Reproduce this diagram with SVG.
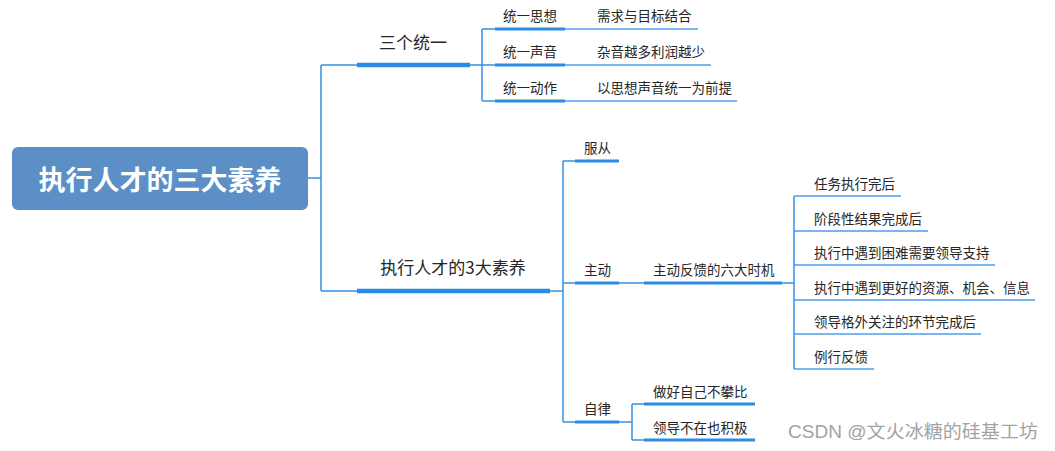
<svg xmlns="http://www.w3.org/2000/svg" width="1055" height="451" viewBox="0 0 1055 451">
<style>
.t{font-family:"Noto Sans CJK SC","Microsoft YaHei",sans-serif;fill:#262626}
.l1{font-size:17px}
.l2{font-size:13.5px}
.c{fill:none;stroke:#3590e6;stroke-width:1.5}
.u1{stroke:#2a8ae4;stroke-width:4.5}
.u2{stroke:#2a8ae4;stroke-width:3}
.u3{stroke:#4d9eea;stroke-width:1.6}
</style>
<rect width="1055" height="451" fill="#fff"/>
<g id="connectors">
<path class="c" d="M308 178H321M321 65V291M321 65H357M321 291H357"/>
<path class="c" d="M470 65H482M482 29V101M482 29H495M482 65H495M482 101H495"/>
<path class="c" d="M550 291H563M563 161V422M563 161H575M563 283H575M563 422H575"/>
<path class="c" d="M619 283H644"/>
<path class="c" d="M782 283H794M794 196V369"/>
<path class="c" d="M619 422H632M632 404V440M632 404H644M632 440H644"/>
</g>
<g id="root">
<rect x="12" y="147" width="296" height="63" rx="6" fill="#5b8fc6"/>
<text x="160" y="190" text-anchor="middle" font-family="'Noto Sans CJK SC',sans-serif" font-weight="bold" font-size="27" fill="#fff">执行人才的三大素养</text>
</g>
<g id="n-santongyi">
<line class="u1" x1="357" y1="65" x2="470" y2="65"/>
<text class="t l1" x="413" y="49" text-anchor="middle">三个统一</text>
</g>
<g id="n-sixiang">
<line class="u2" x1="495" y1="29" x2="565" y2="29"/>
<text class="t l2" x="503" y="21">统一思想</text>
</g>
<g id="n-sixiang-c">
<line class="u3" x1="565" y1="29" x2="698" y2="29"/>
<text class="t l2" x="597" y="21">需求与目标结合</text>
</g>
<g id="n-shengyin">
<line class="u2" x1="495" y1="65" x2="565" y2="65"/>
<text class="t l2" x="503" y="57">统一声音</text>
</g>
<g id="n-shengyin-c">
<line class="u3" x1="565" y1="65" x2="711" y2="65"/>
<text class="t l2" x="597" y="57">杂音越多利润越少</text>
</g>
<g id="n-dongzuo">
<line class="u2" x1="495" y1="101" x2="565" y2="101"/>
<text class="t l2" x="503" y="93">统一动作</text>
</g>
<g id="n-dongzuo-c">
<line class="u3" x1="565" y1="101" x2="737" y2="101"/>
<text class="t l2" x="597" y="93">以思想声音统一为前提</text>
</g>
<g id="n-suyang">
<line class="u1" x1="357" y1="291" x2="550" y2="291"/>
<text class="t l1" x="453" y="274" text-anchor="middle">执行人才的3大素养</text>
</g>
<g id="n-fucong">
<line class="u2" x1="575" y1="161" x2="619" y2="161"/>
<text class="t l2" x="584" y="153">服从</text>
</g>
<g id="n-zhudong">
<line class="u2" x1="575" y1="283" x2="619" y2="283"/>
<text class="t l2" x="584" y="275">主动</text>
</g>
<g id="n-fankui">
<line class="u2" x1="644" y1="283" x2="782" y2="283"/>
<text class="t l2" x="653" y="275">主动反馈的六大时机</text>
</g>
<g id="n-f1">
<line class="u3" x1="794" y1="196" x2="901" y2="196"/>
<text class="t l2" x="814" y="189">任务执行完后</text>
</g>
<g id="n-f2">
<line class="u3" x1="794" y1="231" x2="928" y2="231"/>
<text class="t l2" x="814" y="224">阶段性结果完成后</text>
</g>
<g id="n-f3">
<line class="u3" x1="794" y1="265" x2="995" y2="265"/>
<text class="t l2" x="814" y="258">执行中遇到困难需要领导支持</text>
</g>
<g id="n-f4">
<line class="u3" x1="794" y1="300" x2="1035" y2="300"/>
<text class="t l2" x="814" y="293">执行中遇到更好的资源、机会、信息</text>
</g>
<g id="n-f5">
<line class="u3" x1="794" y1="334" x2="981" y2="334"/>
<text class="t l2" x="814" y="327">领导格外关注的环节完成后</text>
</g>
<g id="n-f6">
<line class="u3" x1="794" y1="369" x2="874" y2="369"/>
<text class="t l2" x="814" y="362">例行反馈</text>
</g>
<g id="n-zilv">
<line class="u2" x1="575" y1="422" x2="619" y2="422"/>
<text class="t l2" x="584" y="414">自律</text>
</g>
<g id="n-z1">
<line class="u2" x1="644" y1="404" x2="755" y2="404"/>
<text class="t l2" x="653" y="397">做好自己不攀比</text>
</g>
<g id="n-z2">
<line class="u2" x1="644" y1="440" x2="755" y2="440"/>
<text class="t l2" x="653" y="433">领导不在也积极</text>
</g>
<text x="788" y="438" font-family="'Liberation Sans','Noto Sans CJK SC',sans-serif" font-size="18" fill="#a3a3a3" textLength="250" lengthAdjust="spacingAndGlyphs">CSDN @文火冰糖的硅基工坊</text>
</svg>
